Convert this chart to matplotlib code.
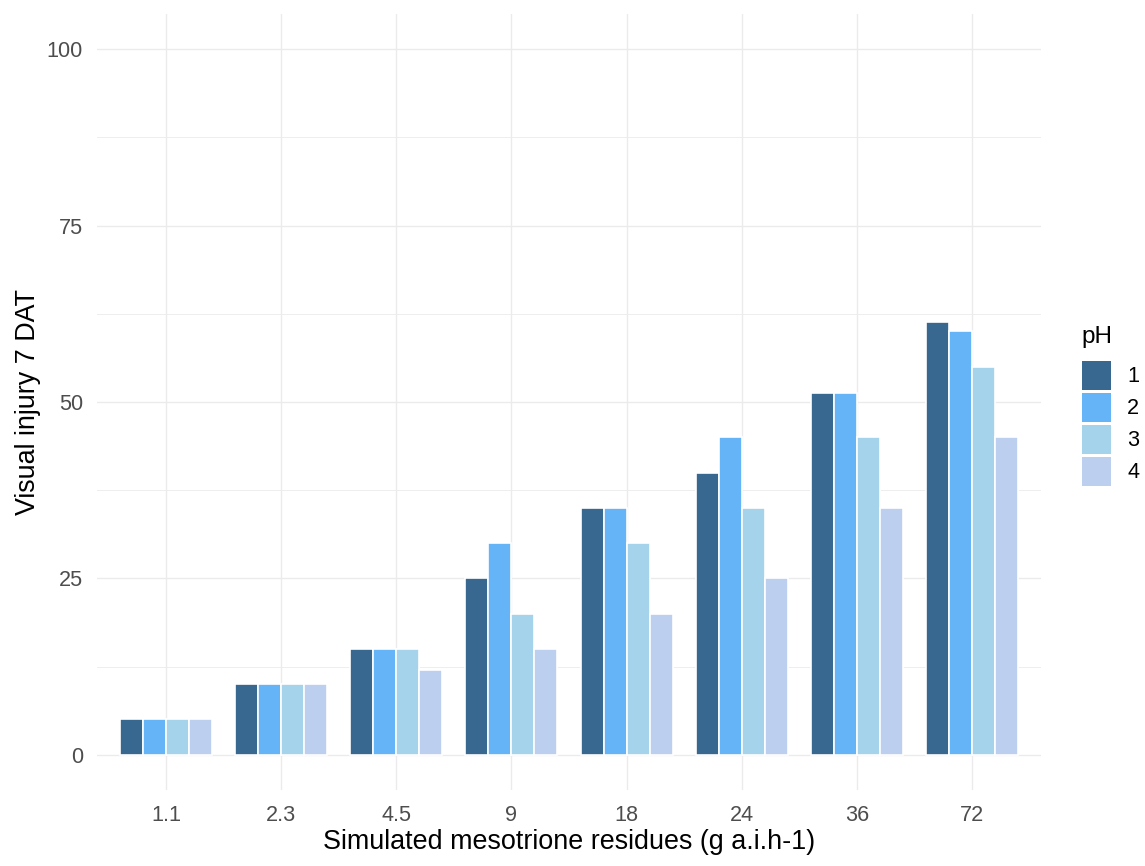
import numpy as np
import matplotlib.pyplot as plt
from matplotlib.patches import Patch
from matplotlib.ticker import MultipleLocator

plt.rcParams['font.family'] = ['Liberation Sans', 'DejaVu Sans']

doses = ['1.1', '2.3', '4.5', '9', '18', '24', '36', '72']
ph_levels = ['1', '2', '3', '4']
injury_ph1 = [5, 10, 15, 25, 35, 40, 51.3, 61.4]
injury_ph2 = [5, 10, 15, 30, 35, 45, 51.3, 60]
injury_ph3 = [5, 10, 15, 20, 30, 35, 45, 55]
injury_ph4 = [5, 10, 12, 15, 20, 25, 35, 45]
colors = ['#386790', '#64B4F7', '#A6D3EC', '#BDCFEE']

series = [injury_ph1, injury_ph2, injury_ph3, injury_ph4]

fig = plt.figure(figsize=(11.45, 8.66), dpi=100)
# panel: x 97..1041 px, y 14..790 px
ax = fig.add_axes([97 / 1145, 1 - 790 / 866, 944 / 1145, 776 / 866])

x = np.arange(1, len(doses) + 1)
w = 0.2
for i, vals in enumerate(series):
    ax.bar(x + (i - 1.5) * w, vals, width=w, color=colors[i],
           edgecolor='white', linewidth=1.2, zorder=3)

ax.set_xlim(0.4, len(doses) + 0.6)
ax.set_ylim(-5, 105)
ax.set_xticks(x)
ax.set_xticklabels(doses)
ax.set_yticks([0, 25, 50, 75, 100])
ax.yaxis.set_minor_locator(MultipleLocator(12.5))
ax.grid(True, which='major', color='#EBEBEB', linewidth=1.0, zorder=0)
ax.grid(True, which='minor', axis='y', color='#EBEBEB', linewidth=0.6, zorder=0)
ax.tick_params(which='both', length=0, labelsize=15.6, labelcolor='#4D4D4D')
ax.tick_params(axis='x', pad=11)
ax.tick_params(axis='y', pad=10)
for s in ax.spines.values():
    s.set_visible(False)

ax.set_xlabel('Simulated mesotrione residues (g a.i.h-1)', fontsize=19.4, color='black', labelpad=2)
ax.set_ylabel('Visual injury 7 DAT', fontsize=19.4, color='black', labelpad=4)

handles = [Patch(facecolor=c, edgecolor='none') for c in colors]
leg = fig.legend(handles, ph_levels, title='pH', loc='upper left',
                 bbox_to_anchor=(1071 / 1145, 1 - 315 / 866), frameon=False,
                 fontsize=15.6, title_fontsize=17.5, handlelength=1.34,
                 handleheight=1.68, labelspacing=0.14, handletextpad=0.75,
                 borderpad=0.5, borderaxespad=0, alignment='left')
leg._legend_box.sep = 9.4  # more room under the title

fig.savefig('out.png', dpi=100)
